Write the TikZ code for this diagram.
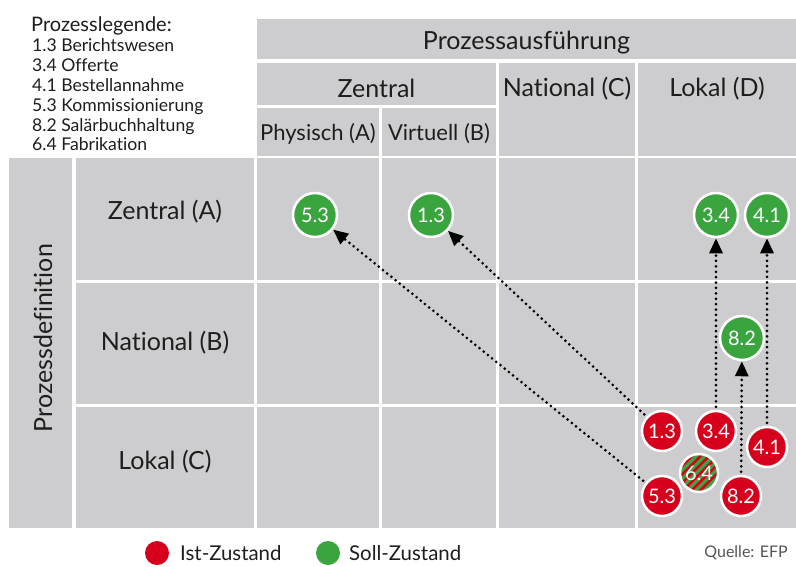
\documentclass[tikz,border=0pt]{standalone}
\usepackage{fontspec}
\setmainfont{Lato}[Ligatures=NoCommon]
\usetikzlibrary{arrows.meta,backgrounds}
\definecolor{cellgray}{HTML}{CDCDCF}
\definecolor{istred}{HTML}{D6001C}
\definecolor{sollgreen}{HTML}{3AA53F}
\definecolor{txt}{HTML}{1E1E1E}
\definecolor{srcgray}{HTML}{555555}
\tikzset{
  cell/.style={fill=cellgray},
  hdr/.style={text=txt, font=\fontsize{25}{27}\selectfont, inner sep=0pt},
  subhdr/.style={text=txt, font=\fontsize{22}{24}\selectfont, inner sep=0pt},
  leg/.style={text=txt, font=\fontsize{17.6}{19}\selectfont, inner sep=0pt, anchor=base west},
  bubble/.style={circle, draw=white, line width=2.5pt, text=white, inner sep=0pt,
    font=\fontsize{20}{22}\selectfont},
  soll/.style={bubble, fill=sollgreen, minimum size=44pt},
  ist/.style={bubble, fill=istred, minimum size=40pt},
  mixed/.style={bubble, fill=sollgreen, minimum size=38pt,
    path picture={
      \foreach \k in {-6,...,6}{
        \draw[istred, line width=2.6pt, shift={(path picture bounding box.center)}]
          (\k*8.5-30,30) -- ++(60,-60);
      }
    }},
  conn/.style={draw=black, line width=3pt, dash pattern=on 0pt off 5.4pt, line cap=round,
    -{Triangle[length=15pt,width=13pt]}, shorten <=3pt},
  legdot/.style={circle, inner sep=0pt, minimum size=24pt},
  legtext/.style={text=txt, font=\fontsize{20.4}{22}\selectfont, inner sep=0pt, anchor=west}
}
\begin{document}
\begin{tikzpicture}[x=1pt,y=-1pt]
\useasboundingbox (0,0) rectangle (796,566);

\begin{scope}[on background layer]
\fill[white] (0,0) rectangle (796,566);
% header cells
\fill[cell] (257,19) rectangle (796,59);
\fill[cell] (257,63) rectangle (496,105);
\fill[cell] (499,63) rectangle (635,156);
\fill[cell] (638,63) rectangle (796,156);
\fill[cell] (257,108) rectangle (379,156);
\fill[cell] (382,108) rectangle (496,156);
% left column
\fill[cell] (9,158) rectangle (72,528);
\fill[cell] (76,158) rectangle (254,280);
\fill[cell] (76,283) rectangle (254,404);
\fill[cell] (76,407) rectangle (254,528);
% body
\foreach \ya/\yb in {158/280, 283/404, 407/528}{
  \foreach \xa/\xb in {257/379, 382/496, 499/635, 638/796}{
    \fill[cell] (\xa,\ya) rectangle (\xb,\yb);
  }
}
\end{scope}

% legend (top left)
\node[leg, font=\fontsize{20}{22}\selectfont] (lg0) at (31,31) {Prozesslegende:};
\node[leg] (lg1) at (32,51.5) {1.3 Berichtswesen};
\node[leg] (lg2) at (32,71.5) {3.4 Offerte};
\node[leg] (lg3) at (32,91.5) {4.1 Bestellannahme};
\node[leg] (lg4) at (32,111.5) {5.3 Kommissionierung};
\node[leg] (lg5) at (32,131) {8.2 Salärbuchhaltung};
\node[leg] (lg6) at (32,150.5) {6.4 Fabrikation};

% header texts
\node[hdr] (hpa) at (526.5,43) {Prozessausführung};
\node[hdr] (hz) at (376.5,88.5) {Zentral};
\node[hdr] (hn) at (567,88.5) {National (C)};
\node[hdr] (hl) at (717,88.5) {Lokal (D)};
\node[subhdr] (hph) at (318,133.5) {Physisch (A)};
\node[subhdr] (hvi) at (439,133.5) {Virtuell (B)};

% row texts
\node[hdr] (rz) at (165,212) {Zentral (A)};
\node[hdr] (rn) at (165,343) {National (B)};
\node[hdr] (rl) at (165,462) {Lokal (C)};
\node[hdr, rotate=90] (pd) at (43,338) {Prozessdefinition};

% target states
\node[soll] (g53) at (315,215) {5.3};
\node[soll] (g13) at (431,215) {1.3};
\node[soll] (g34) at (716,215) {3.4};
\node[soll] (g41) at (767,215) {4.1};
\node[soll] (g82) at (742,338) {8.2};

% current states
\node[ist] (r13) at (662,431) {1.3};
\node[ist] (r34) at (716,431) {3.4};
\node[ist] (r41) at (767,447) {4.1};
\node[ist] (r53) at (662,496) {5.3};
\node[ist] (r82) at (741,496) {8.2};
\node[mixed] (m64) at (699,473) {6.4};

\begin{scope}[on background layer]
\draw[conn] (r53) -- (g53);
\draw[conn] (r13) -- (g13);
\draw[conn] (r34) -- (g34);
\draw[conn] (r41) -- (g41);
\draw[conn] (r82) -- (g82);
\end{scope}

% bottom legend
\node[legdot, fill=istred] (lred) at (157,553) {};
\node[legtext] (tist) at (180,553) {Ist-Zustand};
\node[legdot, fill=sollgreen] (lgreen) at (328,553) {};
\node[legtext] (tsoll) at (349,553) {Soll-Zustand};
\node[text=srcgray, font=\fontsize{16}{18}\selectfont, inner sep=0pt, anchor=east] (src) at (788,553) {Quelle: EFP};
\end{tikzpicture}
\end{document}
